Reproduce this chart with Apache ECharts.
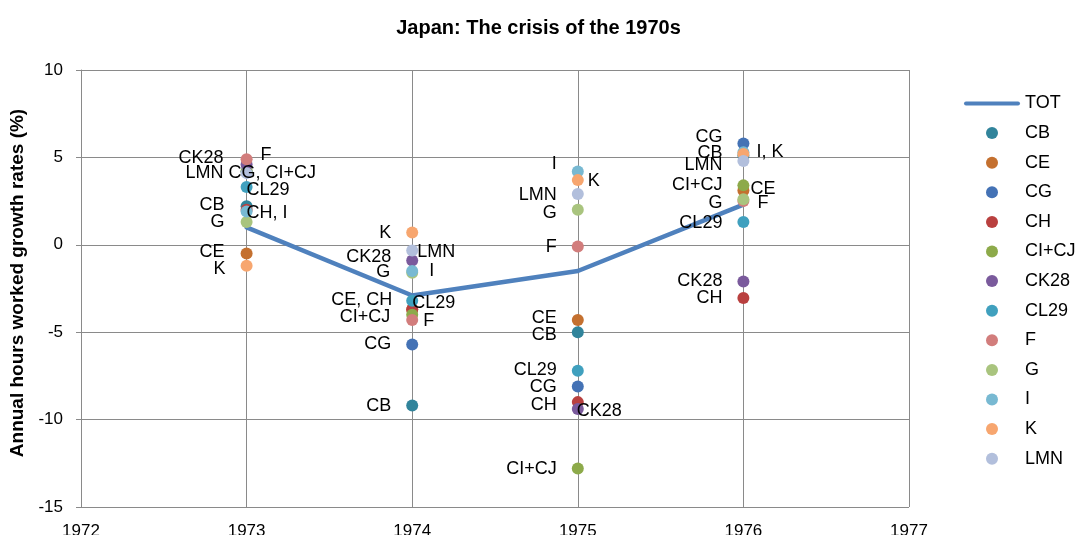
<!DOCTYPE html>
<html>
<head>
<meta charset="utf-8">
<script src="https://cdn.jsdelivr.net/npm/echarts@6/dist/echarts.min.js"></script>
<style>
html,body{margin:0;padding:0;background:#fff;}
#chart{width:1077px;height:535px;}
</style>
</head>
<body>
<div id="chart"></div>
<script>
// ---- data ----
const years = [1973, 1974, 1975, 1976];
const xTicks = [1972, 1973, 1974, 1975, 1976, 1977];
const yTicks = [-15, -10, -5, 0, 5, 10];
const seriesNames = ['CB','CE','CG','CH','CI+CJ','CK28','CL29','F','G','I','K','LMN'];
const TOT   = [1.0, -2.9, -1.5, 2.3];
const CB    = [2.2, -9.2, -5.0, 5.1];
const CE    = [-0.5, -3.7, -4.3, 3.1];
const CG    = [4.2, -5.7, -8.1, 5.8];
const CH    = [2.0, -3.7, -9.0, -3.05];
const CICJ  = [4.2, -4.0, -12.8, 3.4];
const CK28  = [4.6, -0.9, -9.4, -2.1];
const CL29  = [3.3, -3.2, -7.2, 1.3];
const F     = [4.9, -4.3, -0.1, 2.5];
const G     = [1.3, -1.6, 2.0, 2.6];
const I     = [1.9, -1.5, 4.2, 5.3];
const K     = [-1.2, 0.7, 3.7, 5.2];
const LMN   = [4.1, -0.33, 2.9, 4.8];
const seriesValues = [CB, CE, CG, CH, CICJ, CK28, CL29, F, G, I, K, LMN];

// ---- styling ----
const colors = ['#31849B','#C4702F','#4472B5','#B9403F','#8DAA4A','#7A5A9C','#40A0BE','#D27D7C','#A9C47E','#78B9D2','#F7A66F','#B2BFDC'];
// label layout: [year, series, text, side, dx, dy]
const labelLayout = [
 [1973,'CK28','CK28','left',-2,-6],
 [1973,'F','F','right',4,-4],
 [1973,'LMN','LMN','left',-2,0],
 [1973,'CG','CG, CI+CJ','right',-28,2],
 [1973,'CL29','CL29','right',-10,3],
 [1973,'CB','CB','left',-1,-1],
 [1973,'I','CH, I','right',-10,1],
 [1973,'G','G','left',-1,0],
 [1973,'CE','CE','left',-1,-2],
 [1973,'K','K','left',0,3],
 [1974,'K','K','left',0,0],
 [1974,'LMN','LMN','right',-5,1],
 [1974,'CK28','CK28','left',0,-4],
 [1974,'G','G','left',-1,-1],
 [1974,'I','I','right',7,0],
 [1974,'CE','CE, CH','left',1,-9],
 [1974,'CL29','CL29','right',-10,2],
 [1974,'CI+CJ','CI+CJ','left',-1,2],
 [1974,'F','F','right',1,1],
 [1974,'CG','CG','left',0,0],
 [1974,'CB','CB','left',0,0],
 [1975,'I','I','left',0,-7],
 [1975,'K','K','right',0,1],
 [1975,'LMN','LMN','left',0,1],
 [1975,'G','G','left',0,3],
 [1975,'F','F','left',0,0],
 [1975,'CE','CE','left',0,-2],
 [1975,'CB','CB','left',0,3],
 [1975,'CL29','CL29','left',0,-1],
 [1975,'CG','CG','left',0,1],
 [1975,'CH','CH','left',0,3],
 [1975,'CK28','CK28','right',-11,2],
 [1975,'CI+CJ','CI+CJ','left',0,0],
 [1976,'CG','CG','left',0,-6],
 [1976,'CB','CB','left',0,-3],
 [1976,'I','I, K','right',3,0],
 [1976,'LMN','LMN','left',0,4],
 [1976,'CI+CJ','CI+CJ','left',0,0],
 [1976,'CE','CE','right',-3,-2],
 [1976,'G','G','left',0,4],
 [1976,'F','F','right',4,2],
 [1976,'CL29','CL29','left',0,1],
 [1976,'CK28','CK28','left',0,0],
 [1976,'CH','CH','left',0,0]
];

const FONT = '"Liberation Sans", Arial, sans-serif';
const GRIDC = '#8a8a8a';
const TOTC = '#4F81BD';

function findLabel(name, yr) {
  return labelLayout.find(e => e[0] === yr && e[1] === name);
}

function buildData(name, vals) {
  return years.map((yr, i) => {
    const item = { value: [yr, vals[i]] };
    const l = findLabel(name, yr);
    if (l) {
      item.label = {
        show: true,
        formatter: l[2],
        position: l[3],
        distance: l[3] === 'left' ? 15 : 4
      };
    }
    return item;
  });
}

const series = [{
  name: 'TOT',
  type: 'line',
  data: years.map((yr, i) => [yr, TOT[i]]),
  symbol: 'none',
  showSymbol: false,
  z: 1,
  lineStyle: { color: TOTC, width: 4.5, cap: 'round', join: 'round' },
  itemStyle: { color: TOTC },
  emphasis: { disabled: true },
  silent: true
}];
seriesNames.forEach((n, k) => {
  series.push({
    name: n,
    type: 'scatter',
    data: buildData(n, seriesValues[k]),
    symbol: 'circle',
    symbolSize: 12,
    z: 2,
    itemStyle: { color: colors[k], opacity: 1 },
    label: { show: false, color: '#000', fontSize: 18, fontFamily: FONT },
    labelLayout: function (params) {
      const l = findLabel(n, years[params.dataIndex]);
      if (!l) return {};
      return { dx: l[4], dy: l[5], hideOverlap: false, moveOverlap: null };
    },
    emphasis: { disabled: true },
    silent: true
  });
});

const legendData = [{
  name: 'TOT',
  icon: 'path://M2,0 L54,0 A2,2 0 0 1 54,4 L2,4 A2,2 0 0 1 2,0 Z',
  itemStyle: { color: TOTC, borderWidth: 0 }
}].concat(seriesNames.map(n => ({ name: n, icon: 'circle' })));

const chart = echarts.init(document.getElementById('chart'), null, { renderer: 'canvas' });
chart.setOption({
  animation: false,
  backgroundColor: '#fff',
  title: {
    text: 'Japan: The crisis of the 1970s',
    left: 'center',
    top: 18,
    padding: 0,
    textStyle: { fontFamily: FONT, fontSize: 20, fontWeight: 'bold', color: '#000' }
  },
  legend: {
    orient: 'vertical',
    left: 964,
    top: 94.5,
    padding: 0,
    itemWidth: 56,
    itemHeight: 12,
    itemGap: 11.6,
    textStyle: { fontFamily: FONT, fontSize: 18, color: '#000' },
    data: legendData,
    selectedMode: false
  },
  grid: { left: 81, right: 168, top: 70, bottom: 28, containLabel: false, outerBoundsMode: 'none' },
  xAxis: {
    type: 'value',
    min: xTicks[0],
    max: xTicks[xTicks.length - 1],
    interval: 1,
    axisLine: { show: true, lineStyle: { color: GRIDC, width: 1 } },
    axisTick: { show: false },
    splitLine: { show: true, lineStyle: { color: GRIDC, width: 1 } },
    axisLabel: { margin: 16, fontFamily: FONT, fontSize: 17, color: '#000', formatter: v => String(v) }
  },
  yAxis: {
    type: 'value',
    min: yTicks[0],
    max: yTicks[yTicks.length - 1],
    interval: 5,
    name: 'Annual hours worked growth rates (%)',
    nameLocation: 'middle',
    nameGap: 48,
    nameTextStyle: { fontFamily: FONT, fontSize: 19, fontWeight: 'bold', color: '#000', padding: [0, 0, 0, 11] },
    axisLine: { show: true, lineStyle: { color: GRIDC, width: 1 } },
    axisTick: { show: true, length: 5, lineStyle: { color: GRIDC } },
    splitLine: { show: true, lineStyle: { color: GRIDC, width: 1 } },
    axisLabel: { margin: 18, fontFamily: FONT, fontSize: 17, color: '#000' }
  },
  series: series
});
</script>
</body>
</html>
